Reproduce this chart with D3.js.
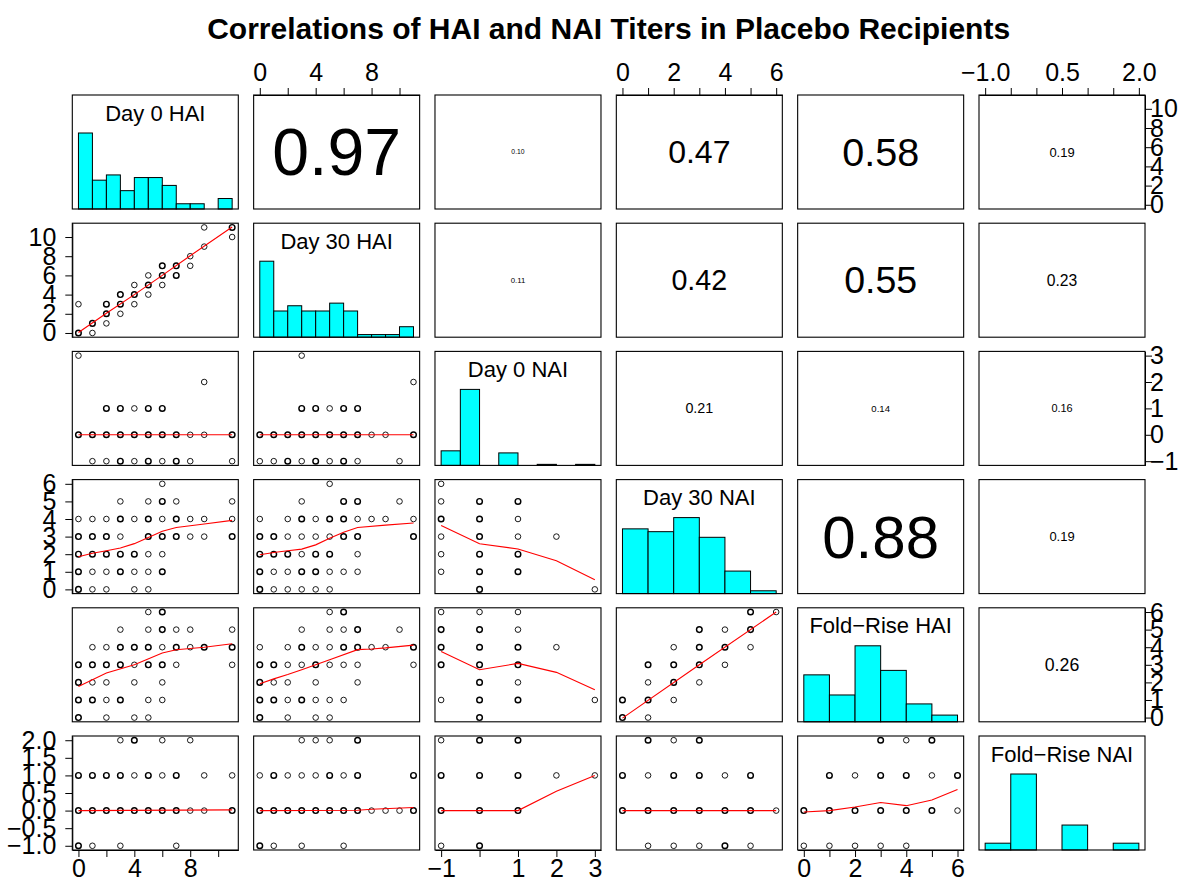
<!DOCTYPE html>
<html><head><meta charset="utf-8">
<script src="https://cdn.jsdelivr.net/npm/d3@7"></script>
<style>
body{margin:0;background:#fff}
svg{display:block;font-family:"Liberation Sans",Arial,Helvetica,sans-serif}
</style></head><body><svg id="chart" width="1193" height="879"></svg>
<script>
// ---- variables ----
const varNames = ["Day 0 HAI", "Day 30 HAI", "Day 0 NAI", "Day 30 NAI", "Fold\u2212Rise HAI", "Fold\u2212Rise NAI"];
const varRanges = [[0, 11], [0, 11], [-1, 3], [0, 6], [0, 6], [-1, 2]];
const varTicks = [
  [0, 2, 4, 6, 8, 10], [0, 2, 4, 6, 8, 10], [-1, 0, 1, 2, 3],
  [0, 1, 2, 3, 4, 5, 6], [0, 1, 2, 3, 4, 5, 6], [-1, -0.5, 0, 0.5, 1, 1.5, 2]
];
const tickDecimals = [0, 0, 0, 0, 0, 1];

// ---- histogram bins (breaks) and counts ----
const day0HaiBreaks = [0, 1, 2, 3, 4, 5, 6, 7, 8, 9, 10, 11];
const day0HaiCounts = [29, 11, 13, 7, 12, 12, 9, 2, 2, 0, 4];
const day30HaiBreaks = [0, 1, 2, 3, 4, 5, 6, 7, 8, 9, 10, 11];
const day30HaiCounts = [29, 10, 12, 10, 10, 13, 10, 1, 1, 1, 4];
const day0NaiBreaks = [-1, -0.5, 0, 0.5, 1, 1.5, 2, 2.5, 3];
const day0NaiCounts = [14, 73, 0, 12, 0, 1, 0, 1];
const day30NaiBreaks = [0, 1, 2, 3, 4, 5, 6];
const day30NaiCounts = [23, 22, 27, 20, 8, 1];
const foldHaiBreaks = [0, 1, 2, 3, 4, 5, 6];
const foldHaiCounts = [21, 12, 34, 23, 8, 3];
const foldNaiBreaks = [-1, -0.5, 0, 0.5, 1, 1.5, 2];
const foldNaiCounts = [6, 67, 0, 22, 0, 6];

// ---- correlation coefficients (upper panels) ----
const corrDay0Hai = [0.97, 0.10, 0.47, 0.58, 0.19];   // vs Day 30 HAI .. Fold-Rise NAI
const corrDay30Hai = [0.11, 0.42, 0.55, 0.23];        // vs Day 0 NAI .. Fold-Rise NAI
const corrDay0Nai = [0.21, 0.14, 0.16];               // vs Day 30 NAI .. Fold-Rise NAI
const corrDay30Nai = [0.88, 0.19];                    // vs Fold-Rise HAI, Fold-Rise NAI
const corrFoldHai = [0.26];                           // vs Fold-Rise NAI

// ---- scatter points [x, y, overlapping observations] and lowess smooths ----
const ptsD30HaiD0Hai = [[0,0,2],[1,0,1],[0,3,1],[1,1,2],[2,1,1],[2,2,2],[2,3,2],[3,2,1],[3,3,2],[3,4,2],[4,3,1],[4,4,2],[4,5,1],[5,4,1],[5,5,2],[5,6,1],[6,5,1],[6,6,2],[6,7,2],[7,6,2],[7,7,2],[8,7,1],[8,8,1],[9,9,1],[9,11,1],[11,11,2],[11,10,1]];
const lowD30HaiD0Hai = [[0,0.05],[2,2.05],[4,4],[6,6],[8,8.05],[11,11.05]];

const ptsD0NaiD0Hai = [[0,3,1],[9,2,1],[2,1,2],[3,1,2],[4,1,1],[5,1,2],[6,1,2],[0,0,2],[1,0,2],[2,0,2],[3,0,2],[4,0,2],[5,0,2],[6,0,2],[7,0,2],[8,0,1],[9,0,1],[11,0,2],[1,-1,1],[2,-1,1],[3,-1,2],[4,-1,1],[5,-1,2],[6,-1,1],[7,-1,2],[8,-1,1],[11,-1,1]];
const lowD0NaiD0Hai = [[0,0],[11,0]];
const ptsD0NaiD30Hai = [[3,3,1],[11,2,1],[3,1,2],[4,1,2],[5,1,1],[6,1,2],[7,1,2],[0,0,2],[1,0,2],[2,0,2],[3,0,2],[4,0,2],[5,0,2],[6,0,2],[7,0,2],[8,0,1],[9,0,1],[11,0,2],[0,-1,1],[1,-1,1],[2,-1,2],[3,-1,1],[4,-1,2],[5,-1,1],[6,-1,2],[7,-1,1],[10,-1,1]];
const lowD0NaiD30Hai = [[0,0],[11,0]];

const ptsD30NaiD0Hai = [[6,6,1],[3,5,1],[5,5,1],[6,5,2],[7,5,1],[11,5,1],[0,4,1],[1,4,1],[2,4,1],[3,4,2],[4,4,1],[5,4,2],[6,4,1],[7,4,2],[8,4,1],[9,4,1],[11,4,1],[0,3,2],[1,3,2],[2,3,2],[3,3,1],[5,3,2],[6,3,2],[7,3,2],[8,3,1],[9,3,1],[11,3,2],[0,2,2],[1,2,2],[2,2,2],[3,2,2],[4,2,2],[5,2,1],[6,2,1],[0,1,2],[1,1,1],[2,1,1],[3,1,2],[4,1,1],[5,1,1],[6,1,2],[0,0,2],[1,0,1],[2,0,1],[4,0,1],[5,0,1]];
const lowD30NaiD0Hai = [[0,1.85],[1,2.05],[2,2.2],[3,2.35],[4,2.6],[5,2.95],[6,3.3],[7,3.52],[8,3.62],[9,3.72],[11,3.92]];
const ptsD30NaiD30Hai = [[5,6,1],[3,5,1],[6,5,2],[7,5,2],[10,5,1],[0,4,1],[2,4,1],[3,4,2],[4,4,1],[5,4,2],[6,4,2],[7,4,1],[8,4,1],[9,4,1],[11,4,1],[0,3,2],[1,3,2],[2,3,1],[3,3,1],[4,3,1],[5,3,1],[6,3,2],[7,3,2],[11,3,2],[0,2,2],[1,2,2],[2,2,2],[3,2,1],[4,2,2],[5,2,2],[7,2,1],[0,1,2],[1,1,1],[2,1,1],[3,1,2],[4,1,2],[5,1,1],[6,1,1],[7,1,1],[0,0,2],[1,0,1],[2,0,1],[3,0,1],[4,0,1],[5,0,1]];
const lowD30NaiD30Hai = [[0,1.97],[1,2.1],[2,2.2],[3,2.29],[4,2.53],[5,2.91],[6,3.25],[7,3.52],[9,3.65],[11,3.77]];
const ptsD30NaiD0Nai = [[-1,6,1],[-1,5,1],[-1,4,2],[-1,3,1],[-1,2,1],[-1,1,1],[0,5,2],[0,4,2],[0,3,2],[0,2,2],[0,1,2],[0,0,2],[1,5,2],[1,4,1],[1,3,1],[1,2,2],[1,1,2],[2,3,1],[3,0,1]];
const lowD30NaiD0Nai = [[-1,3.63],[0,2.59],[1,2.3],[2,1.63],[3,0.55]];

const ptsFHaiD0Hai = [[5,6,1],[6,6,2],[3,5,1],[5,5,1],[6,5,2],[7,5,1],[8,5,1],[11,5,1],[1,4,1],[2,4,1],[3,4,2],[4,4,2],[5,4,2],[6,4,1],[7,4,2],[8,4,1],[9,4,2],[11,4,2],[0,3,2],[1,3,2],[2,3,2],[3,3,2],[4,3,1],[5,3,2],[6,3,2],[7,3,1],[11,3,1],[0,2,2],[1,2,1],[2,2,1],[4,2,1],[6,2,1],[0,1,2],[1,1,2],[2,1,1],[3,1,2],[5,1,1],[6,1,1],[0,0,2],[2,0,1],[4,0,1],[5,0,1]];
const lowFHaiD0Hai = [[0,1.77],[1,2.15],[2,2.53],[4,3.0],[6,3.67],[7,3.86],[9,4.0],[11,4.2]];
const ptsFHaiD30Hai = [[5,6,1],[6,6,2],[3,5,1],[5,5,1],[6,5,1],[7,5,2],[10,5,1],[0,4,1],[2,4,1],[3,4,2],[4,4,1],[5,4,1],[6,4,2],[7,4,2],[8,4,1],[9,4,1],[11,4,2],[0,3,2],[1,3,2],[2,3,1],[3,3,1],[4,3,2],[5,3,1],[6,3,1],[7,3,1],[11,3,1],[0,2,2],[1,2,1],[2,2,1],[4,2,1],[7,2,1],[0,1,2],[1,1,2],[2,1,1],[3,1,2],[4,1,1],[5,1,1],[6,1,1],[0,0,2],[2,0,1],[4,0,1],[5,0,1]];
const lowFHaiD30Hai = [[0,1.92],[1,2.2],[2,2.45],[3,2.72],[5,3.29],[7,3.86],[8,3.9],[9,3.96],[11,4.12]];
const ptsFHaiD0Nai = [[-1,6,1],[-1,5,2],[-1,4,2],[-1,3,2],[-1,1,1],[0,6,1],[0,5,2],[0,4,2],[0,3,2],[0,2,2],[0,1,2],[0,0,2],[1,6,1],[1,5,1],[1,4,2],[1,3,2],[1,2,1],[1,1,2],[2,4,1],[3,1,1]];
const lowFHaiD0Nai = [[-1,3.76],[0,2.72],[1,3.08],[2,2.57],[3,1.58]];
const ptsFHaiD30Nai = [[0,1,2],[0,0,2],[1,3,2],[1,2,1],[1,1,2],[1,0,1],[2,4,1],[2,3,2],[2,2,2],[2,1,1],[3,5,2],[3,4,2],[3,3,2],[3,2,1],[4,5,1],[4,4,2],[4,3,1],[5,6,2],[5,5,2],[5,4,1],[6,6,1]];
const lowFHaiD30Nai = [[0,-0.03],[3,3],[6,6]];

const ptsFNaiD0Hai = [[3,2,1],[4,2,2],[6,2,1],[8,2,1],[0,1,2],[1,1,2],[2,1,2],[3,1,2],[4,1,1],[5,1,2],[6,1,1],[7,1,2],[9,1,1],[11,1,1],[0,0,2],[1,0,2],[2,0,2],[3,0,2],[4,0,2],[5,0,2],[6,0,2],[7,0,2],[8,0,1],[9,0,1],[11,0,2],[0,-1,2],[1,-1,1],[3,-1,1],[7,-1,1]];
const lowFNaiD0Hai = [[0,0],[11,0.02]];
const ptsFNaiD30Hai = [[3,2,1],[4,2,1],[5,2,1],[7,2,2],[0,1,1],[1,1,2],[2,1,1],[3,1,1],[4,1,1],[5,1,2],[6,1,1],[7,1,2],[11,1,2],[0,0,2],[1,0,2],[2,0,2],[3,0,2],[4,0,2],[5,0,2],[6,0,2],[7,0,2],[8,0,1],[9,0,1],[10,0,1],[11,0,2],[0,-1,2],[1,-1,1],[3,-1,1],[6,-1,1]];
const lowFNaiD30Hai = [[0,0],[7,0.01],[8,0.04],[11,0.09]];
const ptsFNaiD0Nai = [[-1,2,1],[0,2,2],[1,2,2],[-1,1,2],[0,1,2],[1,1,2],[2,1,1],[3,1,1],[-1,0,2],[0,0,2],[1,0,2],[-1,-1,1],[0,-1,2]];
const lowFNaiD0Nai = [[-1,0],[0,0],[1,0],[2,0.55],[3,1.0]];
const ptsFNaiD30Nai = [[1,2,2],[2,2,1],[3,2,2],[0,1,2],[1,1,1],[2,1,2],[3,1,2],[4,1,1],[5,1,2],[0,0,2],[1,0,2],[2,0,2],[3,0,2],[4,0,2],[5,0,2],[6,0,1],[1,-1,1],[2,-1,1],[3,-1,1],[4,-1,2],[5,-1,1]];
const lowFNaiD30Nai = [[0,0],[6,0]];
const ptsFNaiFHai = [[3,2,2],[4,2,1],[5,2,2],[1,1,2],[2,1,1],[3,1,2],[4,1,2],[5,1,1],[6,1,2],[0,0,2],[1,0,2],[2,0,2],[3,0,2],[4,0,2],[5,0,2],[6,0,1],[0,-1,1],[1,-1,1],[2,-1,1],[3,-1,1],[4,-1,1]];
const lowFNaiFHai = [[0,-0.04],[1,0],[2,0.1],[3,0.23],[4,0.14],[5,0.3],[6,0.6]];

const titleText = "Correlations of HAI and NAI Titers in Placebo Recipients";

// ---- lookup tables built from the arrays above ----
const histTable = [
  [day0HaiBreaks, day0HaiCounts], [day30HaiBreaks, day30HaiCounts], [day0NaiBreaks, day0NaiCounts],
  [day30NaiBreaks, day30NaiCounts], [foldHaiBreaks, foldHaiCounts], [foldNaiBreaks, foldNaiCounts]
];
const corrRows = [corrDay0Hai, corrDay30Hai, corrDay0Nai, corrDay30Nai, corrFoldHai];
const scatterTable = {
  "1,0": [ptsD30HaiD0Hai, lowD30HaiD0Hai],
  "2,0": [ptsD0NaiD0Hai, lowD0NaiD0Hai], "2,1": [ptsD0NaiD30Hai, lowD0NaiD30Hai],
  "3,0": [ptsD30NaiD0Hai, lowD30NaiD0Hai], "3,1": [ptsD30NaiD30Hai, lowD30NaiD30Hai], "3,2": [ptsD30NaiD0Nai, lowD30NaiD0Nai],
  "4,0": [ptsFHaiD0Hai, lowFHaiD0Hai], "4,1": [ptsFHaiD30Hai, lowFHaiD30Hai], "4,2": [ptsFHaiD0Nai, lowFHaiD0Nai], "4,3": [ptsFHaiD30Nai, lowFHaiD30Nai],
  "5,0": [ptsFNaiD0Hai, lowFNaiD0Hai], "5,1": [ptsFNaiD30Hai, lowFNaiD30Hai], "5,2": [ptsFNaiD0Nai, lowFNaiD0Nai], "5,3": [ptsFNaiD30Nai, lowFNaiD30Nai], "5,4": [ptsFNaiFHai, lowFNaiFHai]
};

// ---- layout ----
const nVar = varNames.length;
const left0 = 72.3, colStep = 181.34, pw = 166;
const top0 = 95, rowStep = 128.2, ph = 114;
const axisFont = 25, labelFont = 22, titleFont = 30;
const colLeft = j => left0 + j * colStep;
const rowTop = i => top0 + i * rowStep;

function xScale(j) {
  const [a, b] = varRanges[j], p = (b - a) * 0.04;
  return d3.scaleLinear().domain([a - p, b + p]).range([colLeft(j), colLeft(j) + pw]);
}
function yScale(i) {
  const [a, b] = varRanges[i], p = (b - a) * 0.04;
  return d3.scaleLinear().domain([a - p, b + p]).range([rowTop(i) + ph, rowTop(i)]);
}
const fmt = (v, d) => (v < 0 ? "\u2212" : "") + Math.abs(v).toFixed(d);

const svg = d3.select("#chart");

svg.append("text")
  .attr("x", (colLeft(0) + colLeft(nVar - 1) + pw) / 2).attr("y", 39)
  .attr("text-anchor", "middle").attr("font-weight", "bold")
  .attr("font-size", titleFont).text(titleText);

const panels = svg.append("g");

for (let i = 0; i < nVar; i++) {
  for (let j = 0; j < nVar; j++) {
    const g = panels.append("g");
    const x = xScale(j), y = yScale(i);
    const L = colLeft(j), T = rowTop(i);
    if (i === j) {
      // histogram, bar heights scaled so the tallest bar fills 2/3 of the panel
      const [br, ct] = histTable[i];
      const maxC = d3.max(ct);
      const hy = d3.scaleLinear().domain([0, 1.5]).range([T + ph, T]);
      const bins = ct.map((c, k) => ({ x0: br[k], x1: br[k + 1], c }));
      g.selectAll("rect.bar").data(bins).join("rect")
        .attr("x", d => x(d.x0)).attr("width", d => x(d.x1) - x(d.x0))
        .attr("y", d => hy(d.c / maxC)).attr("height", d => hy(0) - hy(d.c / maxC))
        .attr("fill", "#00ffff").attr("stroke", "#000").attr("stroke-width", 1);
      g.append("text").attr("x", L + pw / 2).attr("y", T + 25.5)
        .attr("text-anchor", "middle").attr("font-size", labelFont).text(varNames[i]);
    } else if (i < j) {
      // correlation coefficient, text size proportional to r
      const r = corrRows[i][j - i - 1];
      const txt = r.toFixed(2);
      const t = g.append("text").attr("font-size", 100).text(txt);
      const w100 = t.node().getComputedTextLength();
      const fs = r * 0.8 * pw / (w100 / 100);
      t.attr("font-size", fs).attr("x", L + pw / 2).attr("y", T + ph / 2)
        .attr("dy", "0.35em").attr("text-anchor", "middle");
    } else {
      const [pts, low] = scatterTable[i + "," + j];
      g.selectAll("circle").data(pts).join("circle")
        .attr("cx", d => x(d[0])).attr("cy", d => y(d[1])).attr("r", 2.8)
        .attr("fill", "none").attr("stroke", "#000")
        .attr("stroke-width", d => d[2] > 1 ? 1.45 : 0.9);
      g.append("path").datum(low)
        .attr("d", d3.line().x(d => x(d[0])).y(d => y(d[1])))
        .attr("fill", "none").attr("stroke", "#ff0000").attr("stroke-width", 1.1);
    }
    g.append("rect").attr("x", L).attr("y", T).attr("width", pw).attr("height", ph)
      .attr("fill", "none").attr("stroke", "#000").attr("stroke-width", 1.1);
  }
}

// ---- axes: alternate sides, R-style label thinning on horizontal axes ----
const axesG = svg.append("g");
const mWidth = (() => {
  const t = svg.append("text").attr("font-size", axisFont).text("m");
  const w = t.node().getComputedTextLength(); t.remove(); return w;
})();

function styleAxis(a) {
  a.attr("font-family", null).attr("font-size", axisFont);
  a.selectAll("text").attr("fill", "#000");
  a.selectAll("line").attr("stroke", "#000");
  a.select(".domain").attr("stroke", "#000");
}
function thin(a) {
  let lastRight = -Infinity;
  a.selectAll(".tick").each(function () {
    const tick = d3.select(this);
    const tr = /translate\(([-\d.]+)/.exec(tick.attr("transform"));
    const cx = +tr[1];
    const txt = tick.select("text");
    const w = txt.node().getComputedTextLength();
    if (cx - w / 2 < lastRight + mWidth) txt.remove();
    else lastRight = cx + w / 2;
  });
}

for (let j = 0; j < nVar; j++) {
  const d = tickDecimals[j];
  if (j % 2 === 1) {
    const a = axesG.append("g").attr("transform", `translate(0,${rowTop(0)})`)
      .call(d3.axisTop(xScale(j)).tickValues(varTicks[j]).tickFormat(v => fmt(v, d)).tickSize(7).tickSizeOuter(0).tickPadding(7));
    styleAxis(a); thin(a);
  } else {
    const a = axesG.append("g").attr("transform", `translate(0,${rowTop(nVar - 1) + ph})`)
      .call(d3.axisBottom(xScale(j)).tickValues(varTicks[j]).tickFormat(v => fmt(v, d)).tickSize(7).tickSizeOuter(0).tickPadding(2));
    styleAxis(a); thin(a);
  }
}
for (let i = 0; i < nVar; i++) {
  const d = tickDecimals[i];
  if (i % 2 === 1) {
    const a = axesG.append("g").attr("transform", `translate(${colLeft(0)},0)`)
      .call(d3.axisLeft(yScale(i)).tickValues(varTicks[i]).tickFormat(v => fmt(v, d)).tickSize(7).tickSizeOuter(0).tickPadding(9));
    styleAxis(a);
  } else {
    const a = axesG.append("g").attr("transform", `translate(${colLeft(nVar - 1) + pw},0)`)
      .call(d3.axisRight(yScale(i)).tickValues(varTicks[i]).tickFormat(v => fmt(v, d)).tickSize(7).tickSizeOuter(0).tickPadding(-2));
    styleAxis(a);
  }
}
</script></body></html>
